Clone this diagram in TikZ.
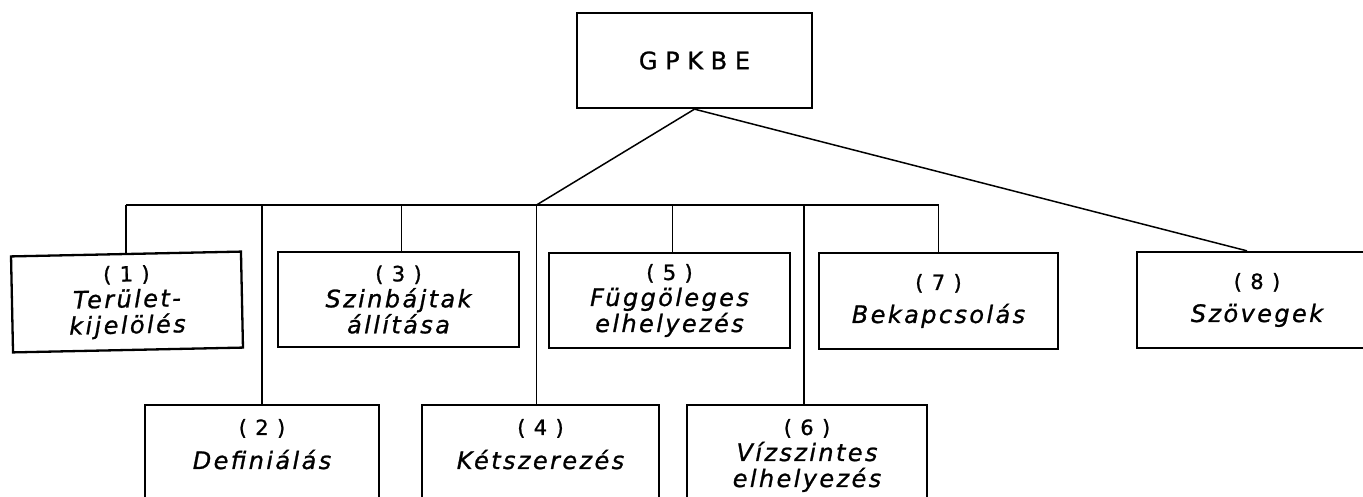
\documentclass[tikz,border=0pt]{standalone}
\usepackage{fontspec}
\newfontfamily\diafont{DejaVu Sans}[LetterSpace=10,FakeBold=1]
\newfontfamily\numfont{DejaVu Sans}[LetterSpace=40,FakeBold=1]
\newfontfamily\topfont{DejaVu Sans}[LetterSpace=32,FakeBold=1]
\usetikzlibrary{calc}
\newcommand\itn[1]{{\itshape #1}}
\newcommand\nr[1]{{\numfont\fontsize{21}{26}\selectfont #1}}
\begin{document}
\begin{tikzpicture}[x=1pt,y=-1pt,
  box/.style={draw, line width=2.3pt, inner sep=0pt, align=center,
    font=\diafont\fontsize{24}{26}\selectfont},
  txt/.style={inner sep=0pt, align=center, font=\diafont\fontsize{24}{26}\selectfont},
  conn/.style={line width=1.5pt}]
\useasboundingbox (0,0) rectangle (1363,497);
% top node
\node[box, minimum width=235pt, minimum height=95pt, font=\topfont\fontsize{24}{28}\selectfont] (top) at (694.5,60.5) {GPKBE};
% upper row
\node[box, minimum width=230pt, minimum height=96pt, rotate=1.2] (b1) at (127,302) {\nr{(1)}\\\itn{Terület-}\\\itn{kijelölés}};
\node[box, minimum width=241pt, minimum height=95pt] (b3) at (398.5,299.5) {\nr{(3)}\\\itn{Szinbájtak}\\\itn{állítása}};
\node[box, minimum width=241pt, minimum height=95pt] (b5) at (669.5,300.5) {\nr{(5)}\\\itn{Függöleges}\\\itn{elhelyezés}};
\node[box, minimum width=239pt, minimum height=96pt] (b7) at (938.5,301) {\nr{(7)}\\[7pt]\itn{Bekapcsolás}};
\node[box, minimum width=240pt, minimum height=96pt] (b8) at (1257,300) {\nr{(8)}\\[7pt]\itn{Szövegek}};
% lower row
\node[box, minimum width=234pt, minimum height=110pt] (b2) at (262,460) {};
\node[box, minimum width=237pt, minimum height=110pt] (b4) at (540.5,460) {};
\node[box, minimum width=240pt, minimum height=110pt] (b6) at (807,460) {};
\node[txt, anchor=north] (t2) at ($(b2.north)+(0,15)$) {\nr{(2)}\\[8pt]\itn{Definiálás}};
\node[txt, anchor=north] (t4) at ($(b4.north)+(0,15)$) {\nr{(4)}\\[8pt]\itn{Kétszerezés}};
\node[txt, anchor=north] (t6) at ($(b6.north)+(0,15)$) {\nr{(6)}\\\itn{Vízszintes}\\\itn{elhelyezés}};
% connectors
\coordinate (bus) at (0,205);
\draw[conn] (top.south) -- ($(b4.north |- bus)+(-4,0)$);
\draw[conn] (top.south) -- ($(b8.north)+(-10,0)$);
\draw[conn] (b1.north |- bus) -- (b7.north |- bus);
\draw[conn] (b1.north) -- (b1.north |- bus);
\draw[conn] (b2.north) -- (b2.north |- bus);
\draw[conn] ($(b3.north)+(3,0)$) -- ($(b3.north |- bus)+(3,0)$);
\draw[conn] ($(b4.north)+(-4,0)$) -- ($(b4.north |- bus)+(-4,0)$);
\draw[conn] ($(b5.north)+(3,0)$) -- ($(b5.north |- bus)+(3,0)$);
\draw[conn] ($(b6.north)+(-3,0)$) -- ($(b6.north |- bus)+(-3,0)$);
\draw[conn] (b7.north) -- (b7.north |- bus);
\end{tikzpicture}
\end{document}
